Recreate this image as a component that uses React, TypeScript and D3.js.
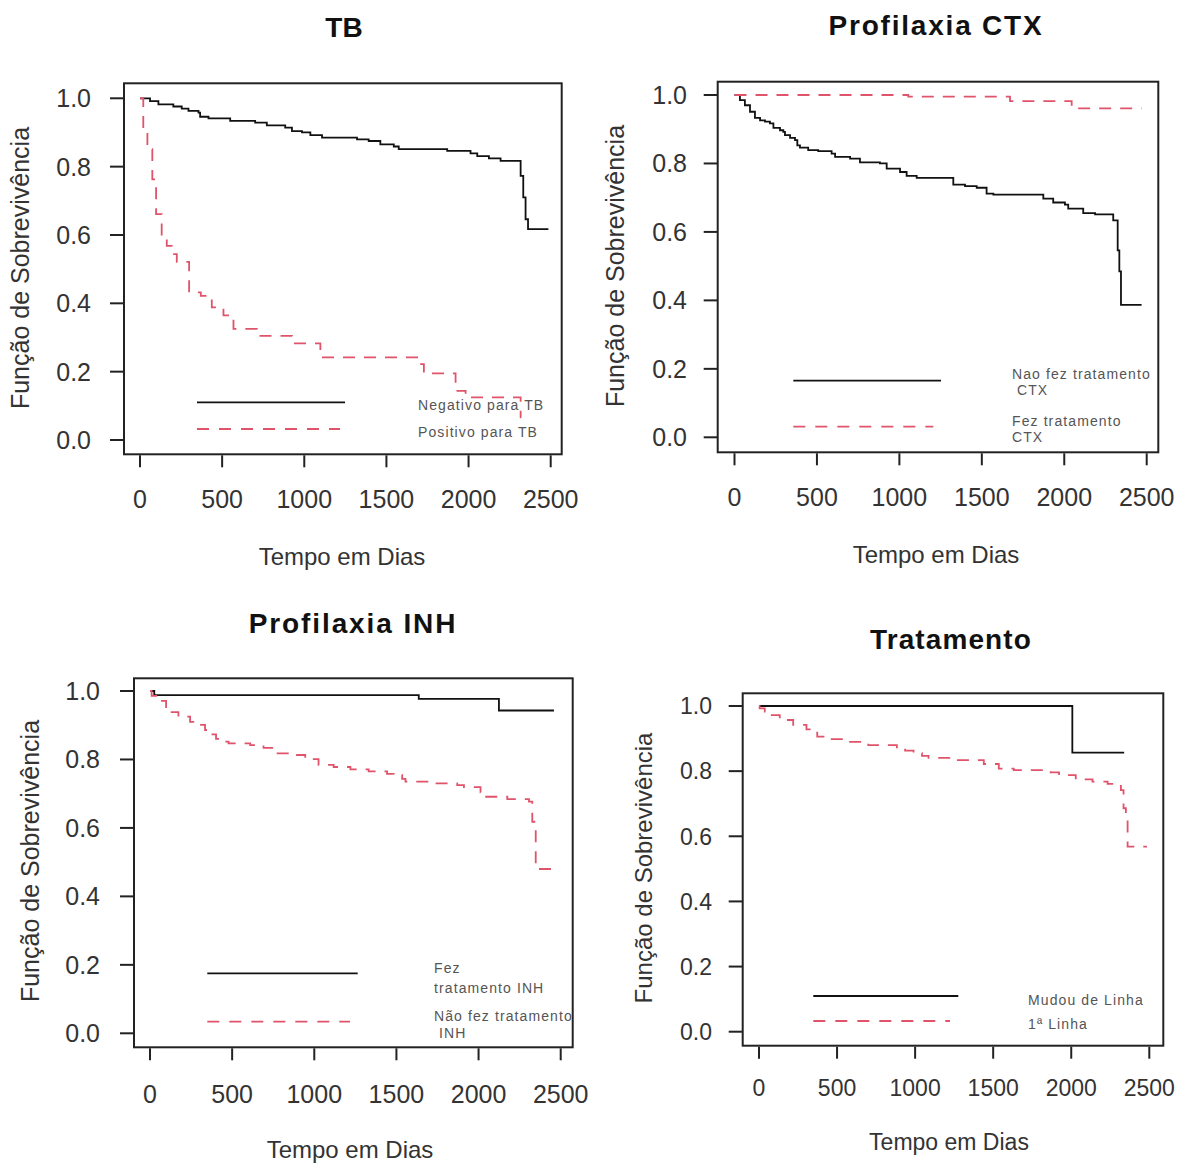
import React, { useEffect, useRef } from "react";
import * as d3 from "d3";

const xTicks = [0, 500, 1000, 1500, 2000, 2500];
const yTicks = [0, 0.2, 0.4, 0.6, 0.8, 1.0];

const titles = ["TB", "Profilaxia CTX", "Profilaxia INH", "Tratamento"];
const xTitle = "Tempo em Dias";
const yTitle = "Função de Sobrevivência";

// TB
const tbNegTime = [0, 61, 112, 203, 254, 295, 356, 366, 417, 549, 701, 772, 884, 925, 986, 1037, 1108, 1321, 1392, 1463, 1545, 1575, 1870, 2012, 2053, 2124, 2195, 2317, 2333, 2347, 2362, 2486];
const tbNegSurv = [1.0, 0.992, 0.982, 0.976, 0.970, 0.963, 0.958, 0.946, 0.941, 0.934, 0.929, 0.921, 0.914, 0.904, 0.900, 0.892, 0.885, 0.880, 0.875, 0.865, 0.859, 0.851, 0.846, 0.839, 0.831, 0.824, 0.817, 0.773, 0.710, 0.646, 0.617, 0.617];
const tbPosTime = [0, 20, 45, 75, 98, 132, 163, 193, 224, 299, 370, 437, 508, 569, 711, 925, 1098, 1687, 1728, 1921, 1982, 2317, 2320];
const tbPosSurv = [1.0, 0.909, 0.851, 0.763, 0.661, 0.597, 0.568, 0.544, 0.521, 0.432, 0.422, 0.388, 0.365, 0.325, 0.305, 0.283, 0.242, 0.222, 0.195, 0.144, 0.125, 0.066, 0.066];

// Profilaxia CTX
const ctxNaoTime = [0, 33, 63, 94, 124, 155, 185, 215, 236, 276, 296, 306, 337, 367, 381, 397, 447, 508, 589, 610, 701, 761, 882, 923, 1004, 1044, 1105, 1327, 1398, 1469, 1529, 1570, 1873, 1933, 2004, 2024, 2115, 2187, 2297, 2324, 2334, 2344, 2469];
const ctxNaoSurv = [1.0, 0.985, 0.970, 0.951, 0.933, 0.926, 0.922, 0.917, 0.904, 0.897, 0.892, 0.883, 0.875, 0.868, 0.853, 0.846, 0.839, 0.836, 0.829, 0.819, 0.814, 0.803, 0.800, 0.785, 0.775, 0.764, 0.758, 0.738, 0.734, 0.729, 0.712, 0.709, 0.697, 0.686, 0.680, 0.668, 0.655, 0.651, 0.634, 0.546, 0.485, 0.387, 0.387];
const ctxFezTime = [0, 1054, 1671, 2045, 2469];
const ctxFezSurv = [1.0, 0.995, 0.982, 0.961, 0.961];

// Profilaxia INH
const inhFezTime = [0, 26, 1636, 2124, 2459];
const inhFezSurv = [1.0, 0.988, 0.977, 0.943, 0.943];
const inhNaoTime = [0, 10, 51, 98, 173, 244, 274, 335, 366, 402, 431, 478, 610, 691, 752, 894, 945, 1026, 1118, 1220, 1331, 1443, 1484, 1535, 1555, 1707, 1870, 1911, 2012, 2033, 2175, 2307, 2327, 2348, 2490];
const inhNaoSurv = [1.0, 0.986, 0.971, 0.938, 0.925, 0.910, 0.901, 0.886, 0.873, 0.860, 0.852, 0.847, 0.842, 0.834, 0.818, 0.813, 0.801, 0.784, 0.778, 0.771, 0.765, 0.758, 0.755, 0.743, 0.735, 0.730, 0.725, 0.719, 0.704, 0.691, 0.684, 0.677, 0.618, 0.480, 0.480];

// Tratamento
const tratMudouTime = [0, 2007, 2339];
const tratMudouSurv = [1.0, 0.857, 0.857];
const tratPrimTime = [0, 4, 37, 69, 133, 219, 304, 337, 373, 454, 562, 700, 883, 936, 990, 1044, 1086, 1247, 1440, 1536, 1632, 1868, 1922, 2029, 2136, 2233, 2318, 2335, 2350, 2361, 2485];
const tratPrimSurv = [1.0, 0.993, 0.983, 0.972, 0.957, 0.942, 0.928, 0.918, 0.906, 0.898, 0.890, 0.880, 0.869, 0.863, 0.855, 0.847, 0.841, 0.834, 0.822, 0.808, 0.803, 0.796, 0.788, 0.775, 0.768, 0.761, 0.742, 0.686, 0.660, 0.568, 0.568];

const legendTB = [["Negativo para TB"], ["Positivo para TB"]];
const legendCTX = [["Nao fez tratamento", " CTX"], ["Fez tratamento", "CTX"]];
const legendINH = [["Fez", "tratamento INH"], ["Não fez tratamento", " INH"]];
const legendTrat = [["Mudou de Linha"], ["1ª Linha"]];

const RED = "#DF536B";
const FONT = "'Liberation Sans', Arial, sans-serif";

const panels = [
  {
    title: titles[0], curves: [[tbNegTime, tbNegSurv], [tbPosTime, tbPosSurv]], legend: legendTB,
    box: [124, 83.3, 561.7, 454.3], xr: [140, 550.7], yr: [440, 98.3],
    titleX: 344, titleY: 37, titleLS: 0, yLabR: 91, yTitle: [29, 268], xLabY: 508, xTitle: [342, 565],
    tickFont: 25, axFont: 24,
    leg: { x1: 197, x2: [345, 340], y: [402.3, 429], tx: 418, ty: [[410], [437]] },
  },
  {
    title: titles[1], curves: [[ctxNaoTime, ctxNaoSurv], [ctxFezTime, ctxFezSurv]], legend: legendCTX,
    box: [717.7, 81.7, 1158.3, 452.3], xr: [734.5, 1146.7], yr: [437.3, 95],
    titleX: 936, titleY: 35, titleLS: 1.8, yLabR: 687, yTitle: [624, 266], xLabY: 506, xTitle: [936, 563],
    tickFont: 25, axFont: 24,
    leg: { x1: 793.3, x2: [941, 933.3], y: [380.7, 426.7], tx: 1012, ty: [[379, 395], [426, 442]] },
  },
  {
    title: titles[2], curves: [[inhFezTime, inhFezSurv], [inhNaoTime, inhNaoSurv]], legend: legendINH,
    box: [134, 678.3, 572.7, 1047.3], xr: [150, 560.7], yr: [1033.3, 691],
    titleX: 353, titleY: 633, titleLS: 1.9, yLabR: 100, yTitle: [39, 861], xLabY: 1103, xTitle: [350, 1158],
    tickFont: 25, axFont: 24,
    leg: { x1: 207.3, x2: [357.7, 350], y: [973.3, 1021.7], tx: 434, ty: [[973, 993], [1021, 1038]] },
  },
  {
    title: titles[3], curves: [[tratMudouTime, tratMudouSurv], [tratPrimTime, tratPrimSurv]], legend: legendTrat,
    box: [742.7, 693.3, 1163.3, 1045.7], xr: [759, 1149.3], yr: [1031.7, 706],
    titleX: 951, titleY: 649, titleLS: 1.1, yLabR: 712, yTitle: [652, 868], xLabY: 1096, xTitle: [949, 1150],
    tickFont: 23, axFont: 23,
    leg: { x1: 813.3, x2: [958.3, 950], y: [996, 1021], tx: 1028, ty: [[1005], [1029]] },
  },
];

export default function App() {
  const ref = useRef<SVGSVGElement>(null);

  useEffect(() => {
    const svg = d3.select(ref.current);
    svg.selectAll("*").remove();

    panels.forEach((p, pi) => {
      const g = svg.append("g");
      const x = d3.scaleLinear().domain([0, 2500]).range(p.xr);
      const y = d3.scaleLinear().domain([0, 1]).range(p.yr);
      const [bx0, by0, bx1, by1] = p.box;

      const clipId = `clip${pi}`;
      svg.append("clipPath").attr("id", clipId)
        .append("rect").attr("x", bx0).attr("y", by0)
        .attr("width", bx1 - bx0 - 1).attr("height", by1 - by0);

      // title
      g.append("text")
        .attr("x", p.titleX).attr("y", p.titleY)
        .attr("text-anchor", "middle")
        .style("font-family", FONT).style("font-weight", "bold")
        .style("font-size", "28px").style("letter-spacing", `${p.titleLS}px`)
        .attr("fill", "#111")
        .text(p.title);

      // curves
      const line = d3.line<[number, number]>()
        .x(d => x(d[0])).y(d => y(d[1]))
        .curve(d3.curveStepAfter);
      p.curves.forEach(([t, s], ci) => {
        g.append("path")
          .datum(d3.zip(t, s) as [number, number][])
          .attr("d", line)
          .attr("fill", "none")
          .attr("stroke", ci === 0 ? "#111" : RED)
          .attr("stroke-width", 1.8)
          .attr("stroke-dasharray", ci === 0 ? null : "12,9");
      });

      // legend
      [0, 1].forEach(i => {
        g.append("line")
          .attr("x1", p.leg.x1).attr("x2", p.leg.x2[i])
          .attr("y1", p.leg.y[i]).attr("y2", p.leg.y[i])
          .attr("stroke", i === 0 ? "#111" : RED)
          .attr("stroke-width", 1.8)
          .attr("stroke-dasharray", i === 0 ? null : "12,10");
        p.legend[i].forEach((txt, li) => {
          g.append("text")
            .attr("x", p.leg.tx).attr("y", p.leg.ty[i][li])
            .attr("clip-path", `url(#${clipId})`)
            .style("font-family", FONT).style("font-size", "14px")
            .style("letter-spacing", "1.1px").style("white-space", "pre")
            .attr("fill", "#555")
            .text(txt);
        });
      });

      // box
      g.append("rect")
        .attr("x", bx0).attr("y", by0)
        .attr("width", bx1 - bx0).attr("height", by1 - by0)
        .attr("fill", "none").attr("stroke", "#222").attr("stroke-width", 2);

      // x ticks
      g.selectAll(".xt").data(xTicks).join("line")
        .attr("x1", d => x(d)).attr("x2", d => x(d))
        .attr("y1", by1 + 1).attr("y2", by1 + 13)
        .attr("stroke", "#222").attr("stroke-width", 2);
      g.selectAll(".xl").data(xTicks).join("text")
        .attr("x", d => x(d)).attr("y", p.xLabY)
        .attr("text-anchor", "middle")
        .style("font-family", FONT).style("font-size", `${p.tickFont}px`)
        .attr("fill", "#333")
        .text(d => String(d));

      // y ticks
      g.selectAll(".yt").data(yTicks).join("line")
        .attr("x1", bx0 - 14).attr("x2", bx0)
        .attr("y1", d => y(d)).attr("y2", d => y(d))
        .attr("stroke", "#222").attr("stroke-width", 2);
      g.selectAll(".yl").data(yTicks).join("text")
        .attr("x", p.yLabR).attr("y", d => y(d) + p.tickFont * 0.36)
        .attr("text-anchor", "end")
        .style("font-family", FONT).style("font-size", `${p.tickFont}px`)
        .attr("fill", "#333")
        .text(d => d3.format(".1f")(d));

      // axis titles
      g.append("text")
        .attr("x", p.xTitle[0]).attr("y", p.xTitle[1])
        .attr("text-anchor", "middle")
        .style("font-family", FONT).style("font-size", `${p.axFont}px`)
        .attr("fill", "#333")
        .text(xTitle);
      g.append("text")
        .attr("transform", `translate(${p.yTitle[0]},${p.yTitle[1]}) rotate(-90)`)
        .attr("text-anchor", "middle")
        .style("font-family", FONT).style("font-size", `${p.axFont + 1}px`)
        .attr("fill", "#333")
        .text(yTitle);
    });
  }, []);

  return (
    <svg
      ref={ref}
      width={1186}
      height={1167}
      style={{ position: "absolute", left: 0, top: 0, background: "#fff" }}
    />
  );
}
